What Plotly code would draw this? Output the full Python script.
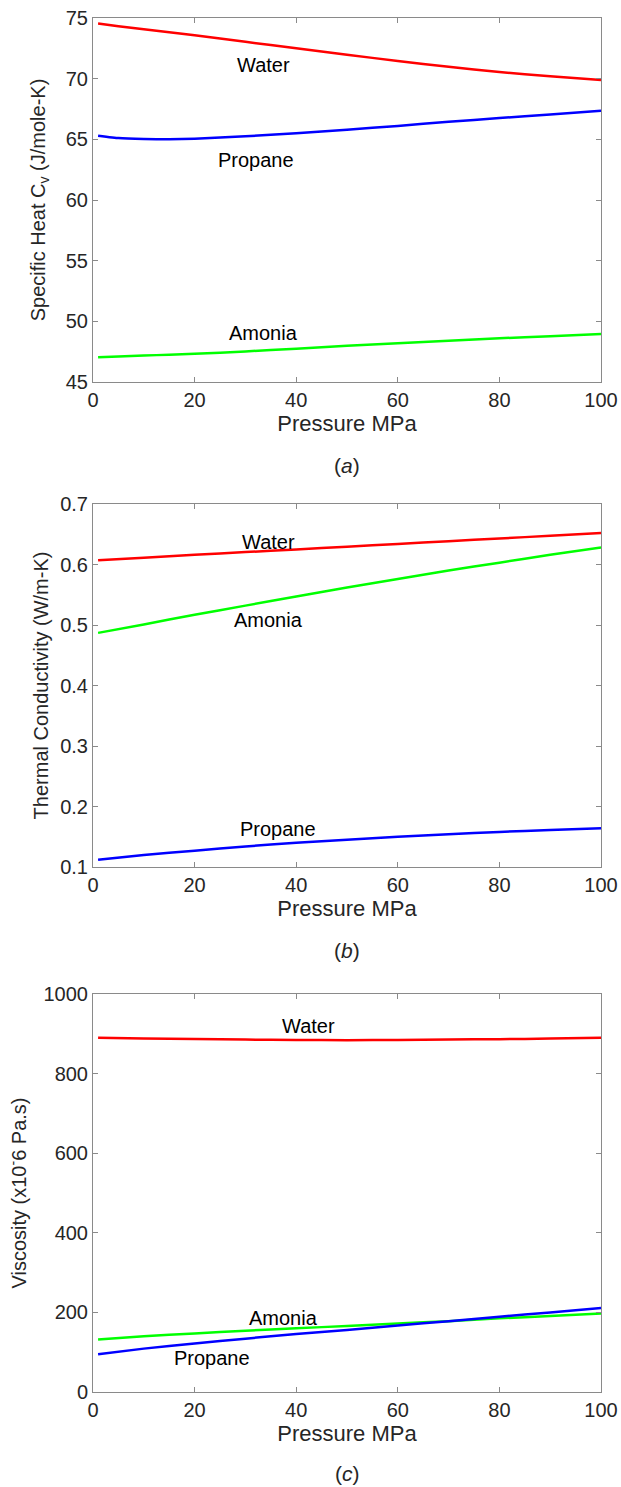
import plotly.graph_objects as go

# ---------------- data ----------------
pressure_a = [1, 5, 10, 15, 20, 30, 40, 50, 60, 70, 80, 90, 100]
cv_water = [74.55, 74.32, 74.07, 73.82, 73.57, 73.04, 72.5, 71.97, 71.46, 70.98, 70.55, 70.2, 69.9]
cv_propane = [65.3, 65.1, 65.02, 65.0, 65.05, 65.25, 65.5, 65.8, 66.1, 66.45, 66.75, 67.05, 67.35]
cv_amonia = [47.05, 47.1, 47.18, 47.25, 47.32, 47.52, 47.75, 47.98, 48.2, 48.4, 48.6, 48.78, 48.95]

pressure_b = [1, 10, 20, 30, 40, 50, 60, 70, 80, 90, 100]
k_water = [0.607, 0.611, 0.616, 0.6205, 0.625, 0.6295, 0.634, 0.6385, 0.643, 0.6475, 0.652]
k_amonia = [0.487, 0.501, 0.517, 0.532, 0.547, 0.562, 0.576, 0.590, 0.603, 0.616, 0.628]
k_propane = [0.112, 0.120, 0.127, 0.134, 0.140, 0.145, 0.150, 0.154, 0.158, 0.161, 0.164]

pressure_c = [1, 10, 20, 30, 40, 50, 60, 70, 80, 90, 100]
mu_water = [890, 888.5, 887, 885.5, 884.5, 884, 884.5, 885.5, 886.5, 888, 890]
mu_amonia = [132, 140, 147, 154, 160, 166, 172, 178, 185, 191, 197]
mu_propane = [95, 109, 122, 134, 146, 156, 167, 178, 189, 200, 211]

x_ticks = [0, 20, 40, 60, 80, 100]
y_ticks_a = [45, 50, 55, 60, 65, 70, 75]
y_ticks_b = [0.1, 0.2, 0.3, 0.4, 0.5, 0.6, 0.7]
y_ticks_c = [0, 200, 400, 600, 800, 1000]

RED, BLUE, GREEN = "#ff0000", "#0000ff", "#00ff00"
FONT = "Liberation Sans, Arial, Helvetica, sans-serif"
TXT = "#262626"
AX = "#8a8a8a"
W = 621
H = 1487.0

fig = go.Figure()

def add(x, y, color, xa, ya):
    fig.add_trace(go.Scatter(x=x, y=y, mode="lines", xaxis=xa, yaxis=ya,
                             line=dict(color=color, width=2.5, shape="spline", smoothing=0.3),
                             showlegend=False, hoverinfo="skip"))

add(pressure_a, cv_water, RED, "x", "y")
add(pressure_a, cv_propane, BLUE, "x", "y")
add(pressure_a, cv_amonia, GREEN, "x", "y")
add(pressure_b, k_water, RED, "x2", "y2")
add(pressure_b, k_amonia, GREEN, "x2", "y2")
add(pressure_b, k_propane, BLUE, "x2", "y2")
add(pressure_c, mu_water, RED, "x3", "y3")
add(pressure_c, mu_amonia, GREEN, "x3", "y3")
add(pressure_c, mu_propane, BLUE, "x3", "y3")

def py(px):
    return 1 - px / H

def dom(top_px, bot_px):
    return [py(bot_px), py(top_px)]

def xax(anchor):
    return dict(domain=[0, 1], range=[0, 100], tickvals=x_ticks, anchor=anchor,
                ticks="inside", ticklen=5, tickcolor=AX, showline=True, linecolor=AX,
                linewidth=1, mirror="ticks", showgrid=False, zeroline=False,
                ticklabeloverflow="allow",
                tickfont=dict(size=20, color=TXT, family=FONT),
                title=dict(text="Pressure MPa", font=dict(size=22, color=TXT, family=FONT), standoff=1))

def yax(anchor, rng, ticks, d, title, standoff):
    return dict(domain=d, range=rng, tickvals=ticks, anchor=anchor,
                ticks="inside", ticklen=5, tickcolor=AX, showline=True, linecolor=AX,
                linewidth=1, mirror="ticks", showgrid=False, zeroline=False,
                ticklabeloverflow="allow",
                tickfont=dict(size=20, color=TXT, family=FONT),
                title=dict(text=title, font=dict(size=20, color=TXT, family=FONT), standoff=standoff))

fig.update_layout(
    width=W, height=int(H),
    margin=dict(l=93, r=W - 93 - 508, t=0, b=0, autoexpand=False),
    paper_bgcolor="white", plot_bgcolor="white",
    font=dict(family=FONT, color=TXT),
    xaxis=xax("y"), xaxis2=xax("y2"), xaxis3=xax("y3"),
    yaxis=yax("x", [45, 75], y_ticks_a, dom(18, 382), "Specific Heat C<sub>v</sub> (J/mole-K)", 14),
    yaxis2=yax("x2", [0.1, 0.7], y_ticks_b, dom(504, 867), "Thermal Conductivity (W/m-K)", 6),
    yaxis3=yax("x3", [0, 1000], y_ticks_c, dom(994, 1392), "Viscosity (x10<sup>-</sup>6 Pa.s)", 11),
)

def lab(text, x, y, xr, yr):
    fig.add_annotation(text=text, x=x, y=y, xref=xr, yref=yr, showarrow=False,
                       font=dict(size=20, color="black", family=FONT))

lab("Water", 33.5, 71.1, "x", "y")
lab("Propane", 32, 63.3, "x", "y")
lab("Amonia", 33.5, 49.0, "x", "y")
lab("Water", 34.5, 0.638, "x2", "y2")
lab("Amonia", 34.5, 0.508, "x2", "y2")
lab("Propane", 36.5, 0.163, "x2", "y2")
lab("Water", 42.5, 920, "x3", "y3")
lab("Amonia", 37.5, 186, "x3", "y3")
lab("Propane", 23.5, 85, "x3", "y3")

for t, ypx in [("(<i>a</i>)", 466), ("(<i>b</i>)", 950), ("(<i>c</i>)", 1473)]:
    fig.add_annotation(text=t, x=0.5, y=py(ypx), xref="paper", yref="paper",
                       showarrow=False, yanchor="middle",
                       font=dict(size=21, color=TXT, family=FONT))

fig.write_html("out.html", config={"displayModeBar": False},
               post_script="document.body.style.margin='0';document.body.style.overflow='hidden';")
